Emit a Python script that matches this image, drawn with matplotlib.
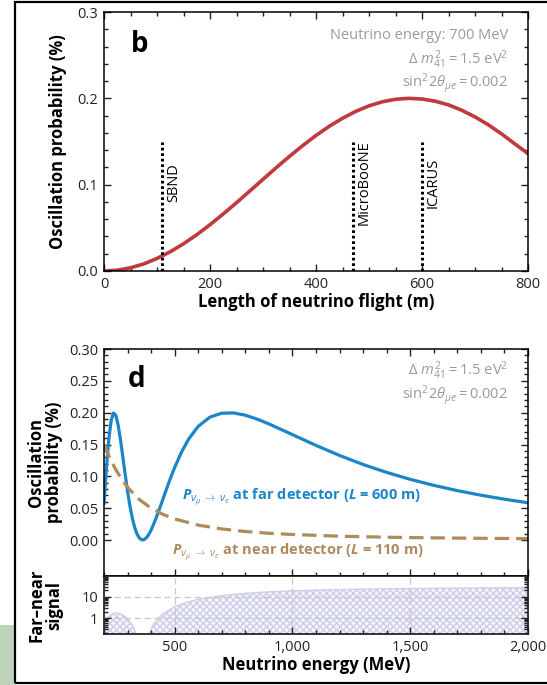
import matplotlib.pyplot as plt
from matplotlib.patches import Rectangle
from matplotlib.ticker import MultipleLocator, FixedLocator, LogLocator, NullFormatter, FuncFormatter

plt.rcParams['font.family'] = ['Open Sans', 'DejaVu Sans']
plt.rcParams['mathtext.fontset'] = 'custom'
plt.rcParams['mathtext.rm'] = 'Open Sans'
plt.rcParams['mathtext.it'] = 'Open Sans:italic'
plt.rcParams['mathtext.bf'] = 'Open Sans:bold'
plt.rcParams['mathtext.bfit'] = 'Open Sans:bold:italic'

# panel b : probability vs. flight length at 700 MeV
flight_m = [0, 25, 50, 75, 100, 125, 150, 175, 200, 225, 250, 275, 300, 325, 350, 375, 400,
            425, 450, 475, 500, 525, 550, 575, 600, 625, 650, 675, 700, 725, 750, 775, 800]
prob_b = [0.0, 0.0009, 0.0037, 0.0082, 0.0145, 0.0223, 0.0315, 0.0420, 0.0536, 0.0661, 0.0791,
          0.0926, 0.1062, 0.1197, 0.1328, 0.1453, 0.1570, 0.1676, 0.1769, 0.1849, 0.1913, 0.1960,
          0.1989, 0.2000, 0.1992, 0.1967, 0.1924, 0.1862, 0.1785, 0.1694, 0.1589, 0.1473, 0.1360]
detector_names = ['SBND', 'MicroBooNE', 'ICARUS']
detector_m = [110, 470, 600]

# panel d : probability vs. energy at far (600 m) and near (110 m) detectors
energy_far = [200, 210, 220, 230, 240, 250, 260, 270, 280, 290, 300, 310, 320, 330, 340, 350,
              360, 370, 380, 390, 400, 420, 440, 460, 480, 500, 530, 560, 600, 650, 700, 750,
              800, 850, 900, 1000, 1100, 1200, 1300, 1400, 1500, 1600, 1700, 1800, 1900, 2000]
prob_far = [0.0579, 0.1110, 0.1568, 0.1871, 0.1995, 0.1961, 0.1807, 0.1574, 0.1305, 0.1028,
            0.0767, 0.0536, 0.0348, 0.0201, 0.0095, 0.0031, 0.0002, 0.0005, 0.0036, 0.0088,
            0.0157, 0.0333, 0.0536, 0.0746, 0.0950, 0.1140, 0.1388, 0.1590, 0.1785, 0.1931,
            0.1992, 0.1996, 0.1960, 0.1899, 0.1824, 0.1655, 0.1486, 0.1328, 0.1186, 0.1062,
            0.0953, 0.0859, 0.0776, 0.0704, 0.0641, 0.0585]
energy_near = [200, 225, 250, 275, 300, 350, 400, 450, 500, 600, 700, 800, 900, 1000,
               1200, 1400, 1600, 1800, 2000]
prob_near = [0.1501, 0.1287, 0.1106, 0.0953, 0.0827, 0.0635, 0.0501, 0.0403, 0.0331, 0.0234,
             0.0174, 0.0134, 0.0106, 0.0087, 0.0060, 0.0044, 0.0034, 0.0027, 0.0022]

# lower strip : far/near signal
energy_sig = [200, 210, 220, 240, 260, 280, 300, 320, 335, 345, 355, 364, 375, 385, 395, 405,
              420, 450, 500, 550, 600, 700, 800, 900, 1000, 1200, 1400, 1600, 1800, 2000]
far_near_signal = [0.55, 0.79, 1.18, 1.70, 1.74, 1.41, 0.93, 0.47, 0.21, 0.089, 0.020, 0.001,
                   0.031, 0.11, 0.235, 0.40, 0.73, 1.59, 3.44, 5.52, 7.62, 11.4, 14.6, 17.1,
                   19.1, 22.0, 23.9, 25.2, 26.1, 26.8]

RED = '#c0393c'
BLUE = '#1a86c8'
BROWN = '#b08a5c'
GRAY = '#9b9b9b'
TICK_FS = 10.5
LABEL_FS = 12
NOTE_FS = 10.5


def style_ticks(ax, top=True):
    ax.tick_params(which='both', direction='in', top=top, right=True, width=1,
                   labelsize=TICK_FS, pad=4, colors='#222222')
    ax.tick_params(which='major', length=5)
    ax.tick_params(which='minor', length=3)
    for s in ax.spines.values():
        s.set_linewidth(1.1)


fig = plt.figure(figsize=(5.47, 6.85), dpi=100)
W, H = 547.0, 685.0

# outer frame and the bit of green background at lower left
fig.patches.append(Rectangle((0, 0), 15 / W, 60 / H, transform=fig.transFigure,
                             facecolor='#bfd3bb', edgecolor='none', zorder=0))
fig.patches.append(Rectangle((15 / W, 2 / H), 1.0, 1 - 4 / H, transform=fig.transFigure,
                             facecolor='none', edgecolor='black', linewidth=1.6, zorder=1))

# ---------------- panel b ----------------
axb = fig.add_axes([104 / W, 1 - 271 / H, 424 / W, 259 / H])
axb.plot(flight_m, prob_b, color=RED, lw=2.6, solid_capstyle='round')
for name, L in zip(detector_names, detector_m):
    axb.plot([L, L], [0, 0.15], color='black', lw=2.2, linestyle=(0, (0.9, 0.9)))
    axb.text(L + 21, 0.102, name, rotation=90, ha='center', va='center', fontsize=NOTE_FS)
axb.set_xlim(0, 800)
axb.set_ylim(0, 0.3)
axb.xaxis.set_major_locator(MultipleLocator(200))
axb.xaxis.set_minor_locator(MultipleLocator(50))
axb.yaxis.set_major_locator(MultipleLocator(0.1))
axb.yaxis.set_minor_locator(MultipleLocator(0.02))
axb.yaxis.set_major_formatter(FuncFormatter(lambda v, p: f'{v:.1f}'))
style_ticks(axb)
axb.set_xlabel('Length of neutrino flight (m)', fontsize=LABEL_FS, fontweight='bold', labelpad=1)
axb.set_ylabel('Oscillation probability (%)', fontsize=LABEL_FS, fontweight='bold')
axb.yaxis.set_label_coords(-0.108, 0.5)
axb.yaxis.label.set_va('center')
axb.text(0.085, 0.875, 'b', transform=axb.transAxes, fontsize=20, fontweight='bold',
         ha='center', va='center')
axb.text(0.953, 0.908, 'Neutrino energy: 700 MeV', transform=axb.transAxes, ha='right',
         va='center', color=GRAY, fontsize=NOTE_FS)
axb.text(0.953, 0.817, r'$\Delta\ m^2_{41} = 1.5\ \mathrm{eV}^2$', transform=axb.transAxes,
         ha='right', va='center', color=GRAY, fontsize=NOTE_FS)
axb.text(0.953, 0.724, r'$\mathrm{sin}^2 2\theta_{\mu e} = 0.002$', transform=axb.transAxes,
         ha='right', va='center', color=GRAY, fontsize=NOTE_FS)

# ---------------- panel d ----------------
axd = fig.add_axes([104 / W, 1 - 576 / H, 424 / W, 227 / H])
axd.plot(energy_far, prob_far, color=BLUE, lw=2.3)
axd.plot(energy_near, prob_near, color=BROWN, lw=2.3, linestyle=(0, (4.5, 2.2)))
axd.set_xlim(200, 2000)
axd.set_ylim(-0.0565, 0.30)
axd.xaxis.set_major_locator(MultipleLocator(500))
axd.xaxis.set_minor_locator(MultipleLocator(100))
axd.yaxis.set_major_locator(FixedLocator([0, 0.05, 0.10, 0.15, 0.20, 0.25, 0.30]))
axd.yaxis.set_minor_locator(FixedLocator([i / 100 for i in range(31)]))
axd.yaxis.set_major_formatter(FuncFormatter(lambda v, p: f'{v:.2f}'))
style_ticks(axd)
axd.tick_params(labelbottom=False)
axd.set_ylabel('Oscillation\nprobability (%)', fontsize=LABEL_FS, fontweight='bold',
               linespacing=1.0)
axd.yaxis.set_label_coords(-0.139, 0.5)
axd.yaxis.label.set_va('center')
axd.text(0.077, 0.865, 'd', transform=axd.transAxes, fontsize=20, fontweight='bold',
         ha='center', va='center')
axd.text(0.953, 0.905, r'$\Delta\ m^2_{41} = 1.5\ \mathrm{eV}^2$', transform=axd.transAxes,
         ha='right', va='center', color=GRAY, fontsize=NOTE_FS)
axd.text(0.953, 0.795, r'$\mathrm{sin}^2 2\theta_{\mu e} = 0.002$', transform=axd.transAxes,
         ha='right', va='center', color=GRAY, fontsize=NOTE_FS)
axd.text(531, 0.0675, r'$\mathbfit{P}_{\nu_\mu\ \rightarrow\ \nu_e}$' + ' at far detector (' +
         r'$\mathbfit{L}$' + ' = 600 m)', color=BLUE, fontsize=10.5, fontweight='bold',
         ha='left', va='center')
axd.text(489, -0.019, r'$\mathbfit{P}_{\nu_\mu\ \rightarrow\ \nu_e}$' + ' at near detector (' +
         r'$\mathbfit{L}$' + ' = 110 m)', color=BROWN, fontsize=10.5, fontweight='bold',
         ha='left', va='center')

# ---------------- far-near strip ----------------
axs = fig.add_axes([104 / W, 1 - 634 / H, 424 / W, 58 / H], sharex=axd)
axs.set_yscale('log')
axs.fill_between(energy_sig, 0.001, far_near_signal, facecolor='#f6f6fc', edgecolor='#cdcde9',
                 hatch='xxxxx', linewidth=0)
axs.plot(energy_sig, far_near_signal, color='#cfcfea', lw=1.0)
axs.set_ylim(0.18, 95)
axs.set_yticks([1, 10])
axs.set_yticklabels(['1', '10'])
axs.yaxis.set_minor_locator(LogLocator(base=10, subs=range(2, 10)))
axs.yaxis.set_minor_formatter(NullFormatter())
axs.xaxis.set_major_formatter(FuncFormatter(lambda v, p: f'{int(v):,}'))
style_ticks(axs, top=False)
axs.grid(True, which='major', color='#c8c8c8', linestyle=(0, (5, 3)), lw=0.9)
axs.set_axisbelow(False)
axs.set_xlabel('Neutrino energy (MeV)', fontsize=LABEL_FS, fontweight='bold', labelpad=1)
axs.set_ylabel('Far\u2013near\nsignal', fontsize=LABEL_FS, fontweight='bold', linespacing=1.0)
axs.yaxis.set_label_coords(-0.139, 0.5)
axs.yaxis.label.set_va('center')

fig.savefig('out.png', dpi=100)
